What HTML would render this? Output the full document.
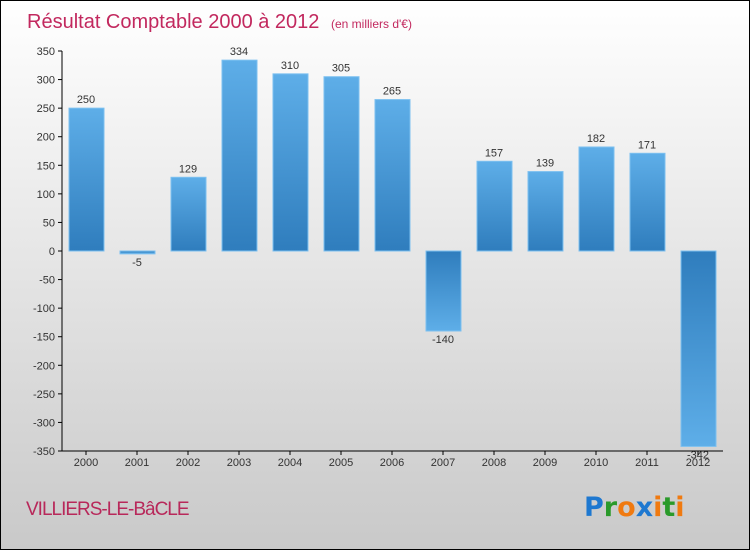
<!DOCTYPE html>
<html><head><meta charset="utf-8"><style>
body{margin:0}
#c{position:relative;width:748px;height:548px;border:1px solid #000;background:linear-gradient(#fff,#c9c9c9);font-family:"Liberation Sans",sans-serif;overflow:hidden}
</style></head><body>
<div id="c">
<svg id="s" width="748" height="548" xmlns="http://www.w3.org/2000/svg">
<defs>
<linearGradient id="gp" x1="0" y1="0" x2="0" y2="1"><stop offset="0" stop-color="#5eaee8"/><stop offset="1" stop-color="#2f7dbd"/></linearGradient>
<linearGradient id="gn" x1="0" y1="0" x2="0" y2="1"><stop offset="0" stop-color="#2f7dbd"/><stop offset="1" stop-color="#5eaee8"/></linearGradient>
</defs>
<text x="26" y="27" font-size="20" fill="#c2285e">Résultat Comptable 2000 à 2012 <tspan font-size="12" dx="6">(en milliers d'€)</tspan></text>
<g id="g"></g>
<text x="25" y="514" font-size="19" fill="#b8285a" letter-spacing="-1">VILLIERS-LE-BâCLE</text>
<text x="583" y="515" font-size="27" font-weight="bold" font-family="'DejaVu Sans',sans-serif"><tspan fill="#1e78d0">P</tspan><tspan fill="#2a9a2a">r</tspan><tspan fill="#f07a10">o</tspan><tspan fill="#1e78d0">x</tspan><tspan fill="#f07a10">i</tspan><tspan fill="#2a9a2a">t</tspan><tspan fill="#f07a10">i</tspan></text>
</svg></div>
<script>
const years=["2000","2001","2002","2003","2004","2005","2006","2007","2008","2009","2010","2011","2012"];
const values=[250,-5,129,334,310,305,265,-140,157,139,182,171,-342];
const ticks=[350,300,250,200,150,100,50,0,-50,-100,-150,-200,-250,-300,-350];
const NS="http://www.w3.org/2000/svg",g=document.getElementById('g');
const y=v=>250-v*(400/700), x=i=>85+i*51;
function mk(t,a){const e=document.createElementNS(NS,t);for(const k in a)e.setAttribute(k,a[k]);g.appendChild(e);return e;}
ticks.forEach(t=>{
 const l=mk('line',{x1:57,x2:61,y1:y(t),y2:y(t),stroke:'#000'});
 
 
 const tx=mk('text',{x:54,y:y(t)+4,'text-anchor':'end','font-size':11,fill:'#333'});tx.textContent=t;
 
 
});
values.forEach((v,i)=>{
 const top=Math.min(y(v),y(0)),h=Math.abs(y(v)-y(0));
 const r=mk('rect',{x:x(i)-17,y:top,width:35,height:Math.max(h,1),fill:v>=0?'url(#gp)':'url(#gn)',stroke:'#7cc0f0','stroke-width':1});
 
 
 const t=mk('text',{x:x(i),y:v>=0?y(v)-5:y(v)+12,'text-anchor':'middle','font-size':11,fill:'#333'});t.textContent=values[i];
 
 
 const tk=mk('line',{x1:x(i),x2:x(i),y1:450,y2:454,stroke:'#000'});
 
 
 const yl=mk('text',{x:x(i),y:465,'text-anchor':'middle','font-size':11,fill:'#333'});yl.textContent=years[i];
 
 
});
const ya=mk('line',{x1:61,x2:61,y1:50,y2:450,stroke:'#000'});


const xa=mk('line',{x1:61,x2:722,y1:450,y2:450,stroke:'#000'});


</script>
</body></html>
